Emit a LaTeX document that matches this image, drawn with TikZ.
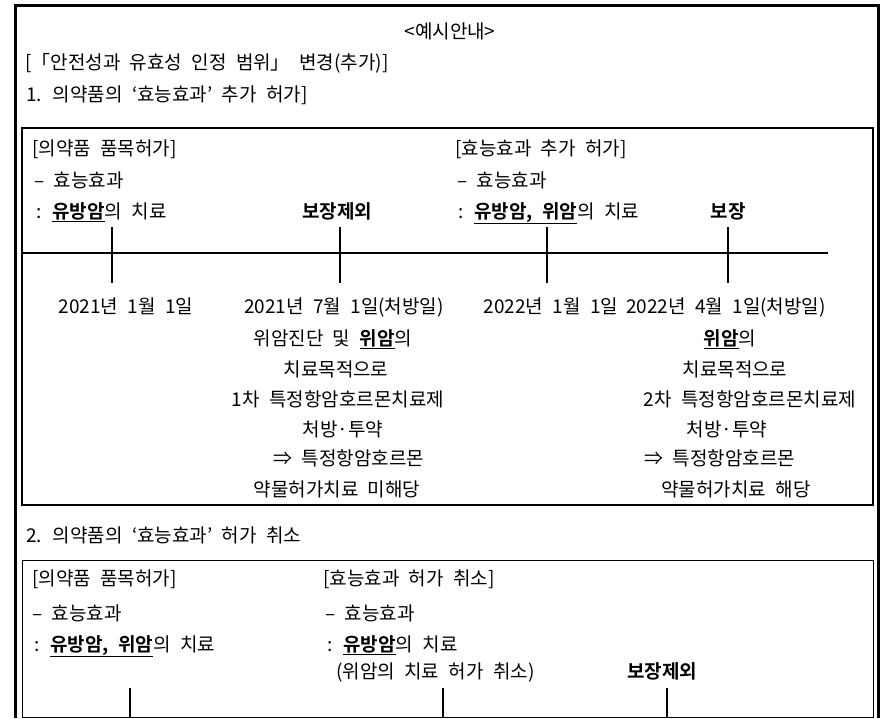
\documentclass[tikz,border=0pt]{standalone}
\usepackage{fontspec}
\setmainfont{Noto Sans CJK KR}[WordSpace=2.2, BoldFont={Noto Sans CJK KR Bold}]
\newcommand{\keyterm}[1]{\underline{\textbf{#1}}}
\begin{document}
\begin{tikzpicture}[
        x=1pt, y=-1pt,
        txt/.style={inner sep=0pt, anchor=base west, font=\fontsize{19}{23}\selectfont},
        ctxt/.style={txt, anchor=base},
        frame/.style={line width=3pt},
        panel/.style={line width=2.5pt},
        thinpanel/.style={line width=1pt},
        axis/.style={line width=2pt},
        tick/.style={line width=2pt}
    ]
        \useasboundingbox (0,0) rectangle (886,718);

        % Outer frame and heading
        \draw[frame] (15,718) -- (15,5) -- (878,5) -- (878,718);
        \node[ctxt] (title) at (450,38) {<예시안내>};
        \node[txt] (scope) at (25,69) {[「안전성과 유효성 인정 범위」 변경(추가)]};
        \node[txt] (sec1) at (26,101) {1. 의약품의 ‘효능효과’ 추가 허가]};

        % Case 1 panel
        \draw[panel] (22,128) rectangle (873,505);
        \node[txt] (p1head) at (32,155) {[의약품 품목허가]};
        \node[txt] (p1eff) at (34,187) {– 효능효과};
        \node[txt] (p1use) at (36,218) {: \keyterm{유방암}의 치료};
        \node[ctxt] (p1excl) at (337,218) {\textbf{보장제외}};
        \node[txt] (p2head) at (455,155) {[효능효과 추가 허가]};
        \node[txt] (p2eff) at (457,187) {– 효능효과};
        \node[txt] (p2use) at (458,218) {: \keyterm{유방암, 위암}의 치료};
        \node[ctxt] (p2cov) at (728,218) {\textbf{보장}};

        % Case 1 time line
        \coordinate (tl0) at (22,253);
        \coordinate (tl1) at (828,253);
        \draw[axis] (tl0) -- (tl1);
        \foreach \i/\x in {1/112, 2/340, 3/547, 4/728} {
            \coordinate (k\i t) at (\x,227);
            \coordinate (k\i b) at (\x,283);
            \draw[tick] (k\i t) -- (k\i b);
        }

        % Case 1 dates
        \node[ctxt] (d1) at (126,313) {2021년 1월 1일};
        \node[ctxt] (d2) at (344,313) {2021년 7월 1일(처방일)};
        \node[ctxt] (d3) at (551,313) {2022년 1월 1일};
        \node[ctxt] (d4) at (726,313) {2022년 4월 1일(처방일)};

        % Case 1 notes
        \node[ctxt] (d2a) at (333,345) {위암진단 및 \keyterm{위암}의};
        \node[ctxt] (d2b) at (336,376) {치료목적으로};
        \node[ctxt] (d2c) at (338,406) {1차 특정항암호르몬치료제};
        \node[ctxt] (d2d) at (343,436) {처방·투약};
        \node[ctxt] (d2e) at (349,465) {⇒ 특정항암호르몬};
        \node[ctxt] (d2f) at (337,496) {약물허가치료 미해당};
        \node[ctxt] (d4a) at (730,345) {\keyterm{위암}의};
        \node[ctxt] (d4b) at (735,376) {치료목적으로};
        \node[ctxt] (d4c) at (750,406) {2차 특정항암호르몬치료제};
        \node[ctxt] (d4d) at (727,436) {처방·투약};
        \node[ctxt] (d4e) at (720,465) {⇒ 특정항암호르몬};
        \node[ctxt] (d4f) at (736,496) {약물허가치료 해당};

        % Case 2 panel
        \node[txt] (sec2) at (26,542) {2. 의약품의 ‘효능효과’ 허가 취소};
        \draw[thinpanel] (22,560) rectangle (873,717);
        \node[txt] (q1head) at (32,585) {[의약품 품목허가]};
        \node[txt] (q1eff) at (32,620) {– 효능효과};
        \node[txt] (q1use) at (34,651) {: \keyterm{유방암, 위암}의 치료};
        \node[txt] (q2head) at (323,585) {[효능효과 허가 취소]};
        \node[txt] (q2eff) at (325,620) {– 효능효과};
        \node[txt] (q2use) at (327,651) {: \keyterm{유방암}의 치료};
        \node[txt] (q2note) at (336,678) {(위암의 치료 허가 취소)};
        \node[ctxt] (q2excl) at (662,678) {\textbf{보장제외}};
        \foreach \i/\x in {1/130, 2/443, 3/667} {
            \coordinate (m\i t) at (\x,688);
            \coordinate (m\i b) at (\x,717);
            \draw[tick] (m\i t) -- (m\i b);
        }
    \end{tikzpicture}
\end{document}
